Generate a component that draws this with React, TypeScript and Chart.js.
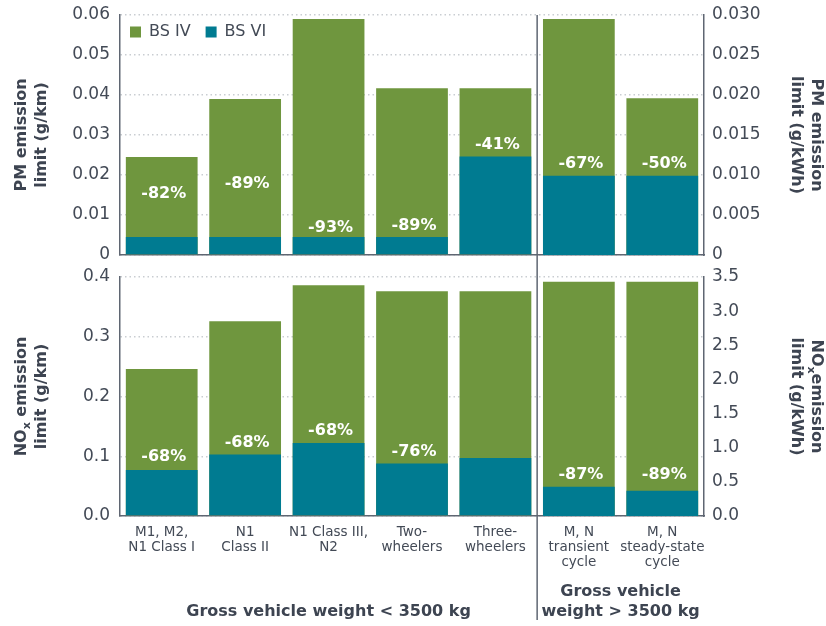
import React, { useEffect, useRef } from "react";
import { Chart, registerables } from "chart.js";
Chart.register(...registerables);

// ---------- data ----------
const categories: string[][] = [
  ["M1, M2,", "N1 Class I"],
  ["N1", "Class II"],
  ["N1 Class III,", "N2"],
  ["Two-", "wheelers"],
  ["Three-", "wheelers"],
  ["M, N", "transient", "cycle"],
  ["M, N", "steady-state", "cycle"],
];
const seriesNames = ["BS IV", "BS VI"];

// PM, light vehicles (g/km) and heavy vehicles (g/kWh)
const pmLightBS4 = [0.0245, 0.039, 0.059, 0.0417, 0.0417];
const pmLightBS6 = [0.0045, 0.0045, 0.0045, 0.0045, 0.0246];
const pmHeavyBS4 = [0.0295, 0.0196];
const pmHeavyBS6 = [0.0099, 0.0099];
const pmReduction = ["-82%", "-89%", "-93%", "-89%", "-41%", "-67%", "-50%"];
const pmLabelAt = [0.0153, 0.0178, 0.0068, 0.0073, 0.0275, 0.0114, 0.0114];

// NOx, light vehicles (g/km) and heavy vehicles (g/kWh)
const noxLightBS4 = [0.246, 0.326, 0.386, 0.376, 0.376];
const noxLightBS6 = [0.077, 0.103, 0.122, 0.088, 0.097];
const noxHeavyBS4 = [3.43, 3.43];
const noxHeavyBS6 = [0.43, 0.37];
const noxReduction = ["-68%", "-68%", "-68%", "-76%", "", "-87%", "-89%"];
const noxLabelAt = [0.099, 0.122, 0.143, 0.108, 0, 0.6, 0.6];

// axis ranges
const pmLightAxis = { max: 0.06, step: 0.01, decimals: 2 };
const pmHeavyAxis = { max: 0.03, step: 0.005, decimals: 3 };
const noxLightAxis = { max: 0.4, step: 0.1, decimals: 1 };
const noxHeavyAxis = { max: 3.5, step: 0.5, decimals: 1 };

type Seg = { t: string; sub?: boolean };
const pmLeftTitle: Seg[][] = [[{ t: "PM emission" }], [{ t: "limit (g/km)" }]];
const pmRightTitle: Seg[][] = [[{ t: "PM emission" }], [{ t: "limit (g/kWh)" }]];
const noxLeftTitle: Seg[][] = [[{ t: "NO" }, { t: "x", sub: true }, { t: " emission" }], [{ t: "limit (g/km)" }]];
const noxRightTitle: Seg[][] = [[{ t: "NO" }, { t: "x", sub: true }, { t: "emission" }], [{ t: "limit (g/kWh)" }]];
const groupLight = ["Gross vehicle weight < 3500 kg"];
const groupHeavy = ["Gross vehicle", "weight > 3500 kg"];

// ---------- styles ----------
const GREEN = "#6f963e";
const TEAL = "#007b91";
const TEXT = "#434a56";
const TITLE = "#3d4451";
const AXIS = "#5f6672";
const GRID = "#c9cdd2";
const FONT = "'DejaVu Sans', Verdana, sans-serif";

const W = 826;
const TOP_H = 266;
const BOT_H = 360;

function fmt(decimals: number, zeroPlain: boolean) {
  return (v: any) => {
    const n = Number(v);
    if (Math.abs(n) < 1e-12) return zeroPlain ? "0" : (0).toFixed(decimals);
    return n.toFixed(decimals);
  };
}

function drawTitle(ctx: CanvasRenderingContext2D, lines: Seg[][], cx: number, cy: number, angle: number) {
  const size = 16;
  const lh = 20;
  ctx.save();
  ctx.translate(cx, cy);
  ctx.rotate(angle);
  ctx.fillStyle = TITLE;
  ctx.textBaseline = "middle";
  ctx.textAlign = "left";
  const n = lines.length;
  lines.forEach((segs, i) => {
    const y = (i - (n - 1) / 2) * lh;
    let w = 0;
    segs.forEach((s) => {
      ctx.font = `bold ${s.sub ? 11 : size}px ${FONT}`;
      w += ctx.measureText(s.t).width;
    });
    let x = -w / 2;
    segs.forEach((s) => {
      ctx.font = `bold ${s.sub ? 11 : size}px ${FONT}`;
      ctx.fillText(s.t, x, s.sub ? y + 5 : y);
      x += ctx.measureText(s.t).width;
    });
  });
  ctx.restore();
}

function fill(light: number[], heavy: number[], heavyPart: boolean) {
  return categories.map((_, i) => {
    if (i < light.length) return heavyPart ? null : light[i];
    return heavyPart ? heavy[i - light.length] : null;
  });
}

function zeroPad(s: any) {
  s.paddingTop = 0;
  s.paddingBottom = 0;
  s.paddingLeft = 0;
  s.paddingRight = 0;
}

function makeConfig(opts: {
  lightBS4: number[];
  lightBS6: number[];
  heavyBS4: number[];
  heavyBS6: number[];
  lightAxis: { max: number; step: number; decimals: number };
  heavyAxis: { max: number; step: number; decimals: number };
  leftZeroPlain: boolean;
  rightZeroPlain: boolean;
  reductions: string[];
  labelAt: number[];
  leftTitle: Seg[][];
  rightTitle: Seg[][];
  isTop: boolean;
}): any {
  const nLight = opts.lightBS4.length;
  const ds = (label: string, data: any[], color: string, axis: string, order: number) => ({
    label,
    data,
    backgroundColor: color,
    yAxisID: axis,
    grouped: false,
    order,
    barPercentage: 0.86,
    categoryPercentage: 1,
    borderWidth: 0,
  });

  const plugin = {
    id: "panelDecor",
    afterDatasetsDraw(chart: any) {
      const ctx = chart.ctx as CanvasRenderingContext2D;
      const xs = chart.scales.x;
      ctx.save();
      ctx.fillStyle = "#ffffff";
      ctx.font = `bold 16px ${FONT}`;
      ctx.textAlign = "center";
      ctx.textBaseline = "middle";
      opts.reductions.forEach((txt, i) => {
        if (!txt) return;
        const ys = i < nLight ? chart.scales.y : chart.scales.y2;
        ctx.fillText(txt, xs.getPixelForValue(i) + 2, ys.getPixelForValue(opts.labelAt[i]));
      });
      ctx.restore();
    },
    afterDraw(chart: any) {
      const ctx = chart.ctx as CanvasRenderingContext2D;
      const xs = chart.scales.x;
      const area = chart.chartArea;
      const sep = (xs.getPixelForValue(nLight - 1) + xs.getPixelForValue(nLight)) / 2;
      // separator
      ctx.save();
      ctx.strokeStyle = AXIS;
      ctx.lineWidth = 1.5;
      ctx.beginPath();
      if (opts.isTop) {
        ctx.moveTo(sep, area.top);
        ctx.lineTo(sep, chart.height);
      } else {
        ctx.moveTo(sep, 0);
        ctx.lineTo(sep, chart.height - 6);
      }
      ctx.stroke();
      ctx.restore();

      // axis titles
      const cy = (area.top + area.bottom) / 2;
      drawTitle(ctx, opts.leftTitle, 32, cy, -Math.PI / 2);
      drawTitle(ctx, opts.rightTitle, 806, cy, Math.PI / 2);

      if (opts.isTop) {
        // legend
        ctx.save();
        ctx.font = `16px ${FONT}`;
        ctx.textBaseline = "middle";
        ctx.textAlign = "left";
        let x = area.left + 10;
        const y = area.top + 17;
        [GREEN, TEAL].forEach((c, i) => {
          ctx.fillStyle = c;
          ctx.fillRect(x, y - 5.5, 11, 11);
          ctx.fillStyle = TEXT;
          ctx.fillText(seriesNames[i], x + 19, y);
          x += 19 + ctx.measureText(seriesNames[i]).width + 15;
        });
        ctx.restore();
      } else {
        ctx.save();
        ctx.font = `bold 16px ${FONT}`;
        ctx.fillStyle = TITLE;
        ctx.textAlign = "center";
        ctx.textBaseline = "middle";
        const baseY = chart.height - 14;
        const lcx = (area.left + sep) / 2;
        groupLight.forEach((t, i) => ctx.fillText(t, lcx, baseY - (groupLight.length - 1 - i) * 20));
        const rcx = (sep + area.right) / 2;
        groupHeavy.forEach((t, i) => ctx.fillText(t, rcx, baseY - (groupHeavy.length - 1 - i) * 20));
        ctx.restore();
      }
    },
  };

  return {
    type: "bar",
    data: {
      labels: categories,
      datasets: [
        ds(seriesNames[0], fill(opts.lightBS4, opts.heavyBS4, false), GREEN, "y", 2),
        ds(seriesNames[1], fill(opts.lightBS6, opts.heavyBS6, false), TEAL, "y", 1),
        ds(seriesNames[0], fill(opts.lightBS4, opts.heavyBS4, true), GREEN, "y2", 2),
        ds(seriesNames[1], fill(opts.lightBS6, opts.heavyBS6, true), TEAL, "y2", 1),
      ],
    },
    options: {
      responsive: false,
      animation: false,
      devicePixelRatio: 1,
      layout: { padding: { top: opts.isTop ? 15 : 11, left: 0, right: 0, bottom: 0 } },
      plugins: { legend: { display: false }, tooltip: { enabled: false } },
      scales: {
        x: {
          type: "category",
          grid: { display: false, drawTicks: false },
          border: { display: true, color: AXIS, width: 1.5 },
          ticks: {
            display: !opts.isTop,
            autoSkip: false,
            maxRotation: 0,
            minRotation: 0,
            padding: 9,
            color: TEXT,
            font: { family: FONT, size: 13.5, lineHeight: 1.11 },
          },
          afterFit: (s: any) => {
            s.height = opts.isTop ? 11 : 110;
            zeroPad(s);
          },
        },
        y: {
          min: 0,
          position: "left",
          max: opts.lightAxis.max,
          ticks: {
            stepSize: opts.lightAxis.step,
            padding: 10,
            color: TEXT,
            font: { family: FONT, size: 17 },
            callback: fmt(opts.lightAxis.decimals, opts.leftZeroPlain),
          },
          grid: { drawTicks: false, color: GRID, lineWidth: 1.5 },
          border: { display: true, color: AXIS, width: 1.5, dash: [1.5, 3] },
          afterFit: (s: any) => {
            s.width = 120;
            zeroPad(s);
          },
        },
        y2: {
          min: 0,
          position: "right",
          max: opts.heavyAxis.max,
          ticks: {
            stepSize: opts.heavyAxis.step,
            padding: 8,
            color: TEXT,
            font: { family: FONT, size: 17 },
            callback: fmt(opts.heavyAxis.decimals, opts.rightZeroPlain),
          },
          grid: { display: false, drawTicks: false },
          border: { display: true, color: AXIS, width: 1.5 },
          afterFit: (s: any) => {
            s.width = 122;
            zeroPad(s);
          },
        },
      },
    },
    plugins: [plugin],
  };
}

export default function App() {
  const topRef = useRef<HTMLCanvasElement>(null);
  const botRef = useRef<HTMLCanvasElement>(null);

  useEffect(() => {
    const top = new Chart(
      topRef.current as HTMLCanvasElement,
      makeConfig({
        lightBS4: pmLightBS4,
        lightBS6: pmLightBS6,
        heavyBS4: pmHeavyBS4,
        heavyBS6: pmHeavyBS6,
        lightAxis: pmLightAxis,
        heavyAxis: pmHeavyAxis,
        leftZeroPlain: true,
        rightZeroPlain: true,
        reductions: pmReduction,
        labelAt: pmLabelAt,
        leftTitle: pmLeftTitle,
        rightTitle: pmRightTitle,
        isTop: true,
      })
    );
    const bot = new Chart(
      botRef.current as HTMLCanvasElement,
      makeConfig({
        lightBS4: noxLightBS4,
        lightBS6: noxLightBS6,
        heavyBS4: noxHeavyBS4,
        heavyBS6: noxHeavyBS6,
        lightAxis: noxLightAxis,
        heavyAxis: noxHeavyAxis,
        leftZeroPlain: false,
        rightZeroPlain: false,
        reductions: noxReduction,
        labelAt: noxLabelAt,
        leftTitle: noxLeftTitle,
        rightTitle: noxRightTitle,
        isTop: false,
      })
    );
    return () => {
      top.destroy();
      bot.destroy();
    };
  }, []);

  return (
    <div style={{ position: "absolute", left: 0, top: 0, width: W, height: TOP_H + BOT_H, background: "#fff" }}>
      <canvas
        ref={topRef}
        width={W}
        height={TOP_H}
        style={{ position: "absolute", left: 0, top: 0, width: W, height: TOP_H }}
      />
      <canvas
        ref={botRef}
        width={W}
        height={BOT_H}
        style={{ position: "absolute", left: 0, top: TOP_H, width: W, height: BOT_H }}
      />
    </div>
  );
}
